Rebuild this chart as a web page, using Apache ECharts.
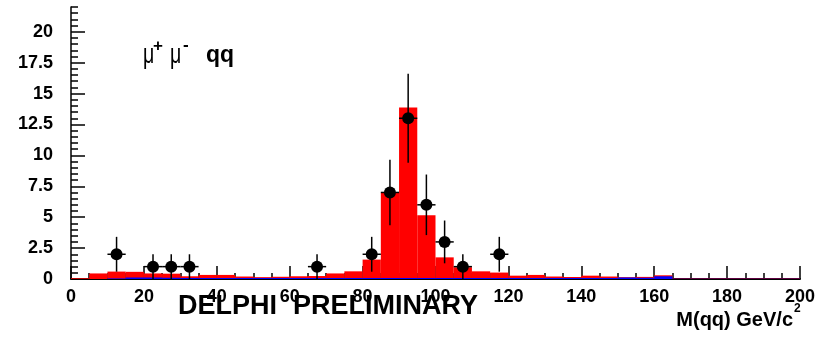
<!DOCTYPE html>
<html>
<head>
<meta charset="utf-8">
<script src="https://cdn.jsdelivr.net/npm/echarts@6/dist/echarts.min.js"></script>
<style>
  html, body { margin: 0; padding: 0; background: #ffffff; }
  #chart { width: 821px; height: 337px; }
</style>
</head>
<body>
<div id="chart"></div>
<script>
// Di-jet invariant mass, mu+ mu- q q channel
const binWidth = 5;
const binStarts = [0, 5, 10, 15, 20, 25, 30, 35, 40, 45, 50, 55, 60, 65, 70, 75, 80, 85, 90, 95,
                   100, 105, 110, 115, 120, 125, 130, 135, 140, 145, 150, 155, 160, 165, 170, 175, 180, 185, 190, 195];
// total simulated expectation (red)
const expectedTotal = [0.06, 0.45, 0.6, 0.58, 0.45, 0.43, 0.22, 0.33, 0.33, 0.2, 0.15, 0.18, 0.22, 0.24, 0.45, 0.62, 1.57, 7.0, 13.87, 5.15,
                       1.75, 0.95, 0.62, 0.52, 0.27, 0.33, 0.2, 0.16, 0.27, 0.2, 0.15, 0.17, 0.3, 0.04, 0.04, 0.04, 0.04, 0.04, 0.04, 0.04];
// background component (blue)
const expectedBackground = [0, 0, 0.05, 0.12, 0.12, 0.1, 0.08, 0.08, 0.08, 0.08, 0.08, 0.08, 0.08, 0.08, 0.08, 0.08, 0.08, 0.08, 0.08, 0.08,
                            0.08, 0.08, 0.08, 0.08, 0.08, 0.08, 0.08, 0.08, 0.08, 0.08, 0.12, 0.1, 0.22, 0.02, 0.02, 0.02, 0.02, 0.02, 0.02, 0.02];
// observed events
const dataMass = [12.5, 22.5, 27.5, 32.5, 67.5, 82.5, 87.5, 92.5, 97.5, 102.5, 107.5, 117.5];
const dataCounts = [2, 1, 1, 1, 1, 2, 7, 13, 6, 3, 1, 2];
const dataErrors = [1.41, 1, 1, 1, 1, 1.41, 2.65, 3.6, 2.45, 1.73, 1, 1.41];
// axis tick labels
const xTickLabels = [0, 20, 40, 60, 80, 100, 120, 140, 160, 180, 200];
const yTickLabels = [0, 2.5, 5, 7.5, 10, 12.5, 15, 17.5, 20];

const FONT = 'Liberation Sans, Arial, Helvetica, sans-serif';

function histItem(color) {
  return function (params, api) {
    const p0 = api.coord([api.value(0), 0]);
    const p1 = api.coord([api.value(1), api.value(2)]);
    return {
      type: 'rect',
      shape: { x: p0[0], y: p1[1], width: p1[0] - p0[0], height: p0[1] - p1[1] },
      style: { fill: color }
    };
  };
}

const totalData = binStarts.map((s, i) => [s, s + binWidth, expectedTotal[i]]);
const bkgData = binStarts.map((s, i) => [s, s + binWidth, expectedBackground[i]]);
const pointData = dataMass.map((m, i) => [m, dataCounts[i], dataErrors[i]]);

const chart = echarts.init(document.getElementById('chart'), null, { renderer: 'canvas' });

chart.setOption({
  animation: false,
  backgroundColor: '#ffffff',
  textStyle: { fontFamily: FONT },
  grid: { left: 71, right: 21, top: 7, bottom: 58 },
  xAxis: [{
    type: 'value', min: 0, max: 200, interval: 20,
    axisLine: { lineStyle: { color: '#000', width: 2 } },
    axisTick: { inside: true, length: 13, lineStyle: { color: '#000', width: 1.5 } },
    minorTick: { show: true, splitNumber: 4, length: 6, lineStyle: { color: '#000', width: 1.5 } },
    axisLabel: { color: '#000', fontSize: 18, fontWeight: 'bold', fontFamily: FONT, margin: 9 },
    splitLine: { show: false }
  }],
  yAxis: [{
    type: 'value', min: 0, max: 22, interval: 2.5, position: 'left',
    axisLine: { show: true, lineStyle: { color: '#000', width: 1.5 } },
    axisTick: { inside: true, length: 14, customValues: yTickLabels, lineStyle: { color: '#000', width: 1.5 } },
    axisLabel: { customValues: yTickLabels, color: '#000', fontSize: 18, fontWeight: 'bold', fontFamily: FONT, margin: 18 },
    splitLine: { show: false }
  }, {
    type: 'value', min: 0, max: 22, interval: 0.5, position: 'left', offset: 0,
    axisLine: { show: false },
    axisTick: { inside: true, length: 7, lineStyle: { color: '#000', width: 1.5 } },
    axisLabel: { show: false },
    splitLine: { show: false }
  }],
  series: [{
    type: 'custom', name: 'total', xAxisIndex: 0, yAxisIndex: 0,
    renderItem: histItem('#ff0000'),
    encode: { x: [0, 1], y: 2 },
    data: totalData, z: 1
  }, {
    type: 'custom', name: 'background', xAxisIndex: 0, yAxisIndex: 0,
    renderItem: histItem('#0000ff'),
    encode: { x: [0, 1], y: 2 },
    data: bkgData, z: 2
  }, {
    type: 'custom', name: 'errors', xAxisIndex: 0, yAxisIndex: 0,
    renderItem: function (params, api) {
      const x = api.value(0), y = api.value(1), e = api.value(2);
      const top = api.coord([x, y + e]);
      const bot = api.coord([x, Math.max(0, y - e)]);
      const l = api.coord([x - binWidth / 2, y]);
      const r = api.coord([x + binWidth / 2, y]);
      const st = { stroke: '#000', lineWidth: 1.5 };
      return {
        type: 'group',
        children: [
          { type: 'line', shape: { x1: top[0], y1: top[1], x2: bot[0], y2: bot[1] }, style: st },
          { type: 'line', shape: { x1: l[0], y1: l[1], x2: r[0], y2: r[1] }, style: st }
        ]
      };
    },
    encode: { x: 0, y: 1 },
    data: pointData, z: 3
  }, {
    type: 'scatter', name: 'data', xAxisIndex: 0, yAxisIndex: 0,
    symbol: 'circle', symbolSize: 12,
    itemStyle: { color: '#000', opacity: 1 },
    data: pointData.map(d => [d[0], d[1]]), z: 4
  }],
  graphic: [
    { type: 'text', x: 143, y: 55, scaleX: 0.7, style: { text: 'μ', font: '28px ' + FONT, fill: '#000', align: 'left', verticalAlign: 'middle' } },
    { type: 'text', x: 153, y: 46, style: { text: '+', font: 'bold 17px ' + FONT, fill: '#000', align: 'left', verticalAlign: 'middle' } },
    { type: 'text', x: 170, y: 55, scaleX: 0.7, style: { text: 'μ', font: '28px ' + FONT, fill: '#000', align: 'left', verticalAlign: 'middle' } },
    { type: 'text', x: 183, y: 45.5, style: { text: '-', font: 'bold 17px ' + FONT, fill: '#000', align: 'left', verticalAlign: 'middle' } },
    { type: 'text', x: 206, y: 56, style: { text: 'qq', font: 'bold 23px ' + FONT, fill: '#000', align: 'left', verticalAlign: 'middle' } },
    { type: 'text', x: 178, y: 307, style: { text: 'DELPHI', font: 'bold 27px ' + FONT, fill: '#000', align: 'left', verticalAlign: 'middle' } },
    { type: 'text', x: 293, y: 307, style: { text: 'PRELIMINARY', font: 'bold 27px ' + FONT, fill: '#000', align: 'left', verticalAlign: 'middle' } },
    { type: 'text', x: 793, y: 320, style: { text: 'M(qq) GeV/c', font: 'bold 20px ' + FONT, fill: '#000', align: 'right', verticalAlign: 'middle' } },
    { type: 'text', x: 794, y: 309, style: { text: '2', font: 'bold 12px ' + FONT, fill: '#000', align: 'left', verticalAlign: 'middle' } }
  ]
});
</script>
</body>
</html>
